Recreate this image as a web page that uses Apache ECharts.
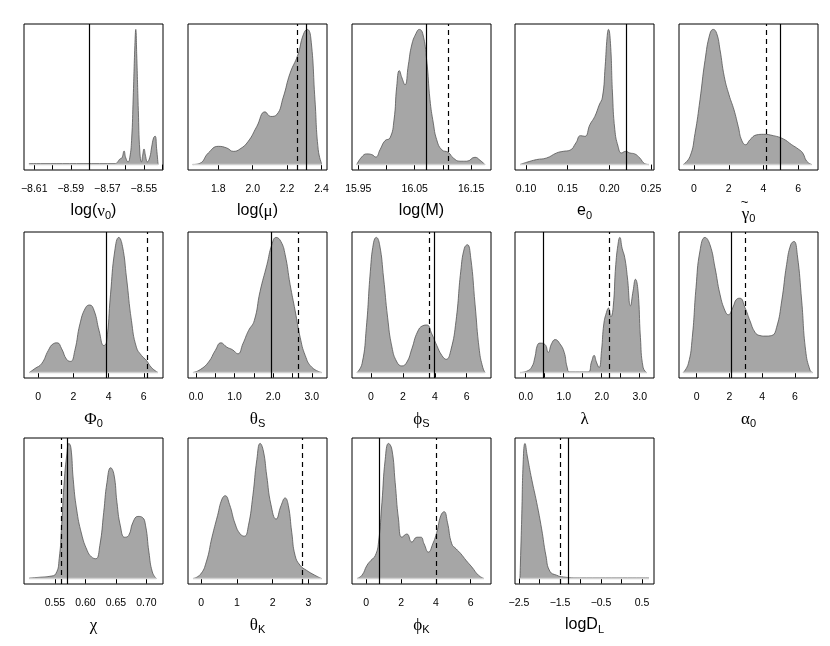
<!DOCTYPE html>
<html>
<head>
<meta charset="utf-8">
<script src="https://cdn.jsdelivr.net/npm/echarts@6/dist/echarts.min.js"></script>
<style>html,body{margin:0;padding:0;background:#fff}#c{width:830px;height:646px}</style>
</head>
<body>
<div id="c"></div>
<script>
// ---- density curves: [value, relative density] ----
const densNu0 = [[-8.6129,0.008],[-8.5654,0.008],[-8.5643,0.02],[-8.5632,0.04],[-8.5620,0.05],[-8.5608,0.10],[-8.5599,0.05],[-8.5586,0.02],[-8.5577,0.05],[-8.5567,0.18],[-8.5558,0.5],[-8.5549,0.88],[-8.5544,1.0],[-8.5539,0.82],[-8.5530,0.4],[-8.5522,0.1],[-8.5513,0.02],[-8.5506,0.07],[-8.5499,0.115],[-8.5490,0.06],[-8.5481,0.02],[-8.5468,0.05],[-8.5457,0.13],[-8.5446,0.20],[-8.5438,0.21],[-8.5430,0.12],[-8.5422,0.0]];
const densMu = [[1.651,0],[1.694,0.01],[1.742,0.086],[1.80,0.135],[1.849,0.123],[1.887,0.098],[1.926,0.115],[1.974,0.172],[2.023,0.28],[2.072,0.39],[2.105,0.356],[2.140,0.37],[2.178,0.50],[2.217,0.675],[2.262,0.81],[2.294,0.96],[2.317,1.0],[2.337,0.946],[2.362,0.48],[2.381,0.11],[2.401,0.005]];
const densLogM = [[15.9472,0],[15.956,0.056],[15.9649,0.079],[15.9738,0.074],[15.9809,0.056],[15.9885,0.11],[15.9973,0.177],[16.0062,0.197],[16.0133,0.33],[16.0181,0.577],[16.0227,0.695],[16.0275,0.64],[16.0328,0.59],[16.0387,0.737],[16.0447,0.885],[16.0523,0.97],[16.0582,1.0],[16.0642,0.97],[16.0713,0.77],[16.0771,0.48],[16.083,0.307],[16.089,0.184],[16.0979,0.11],[16.1096,0.09],[16.1184,0.049],[16.1303,0.025],[16.1422,0.025],[16.1569,0.054],[16.1658,0.032],[16.1746,0]];
const densE0 = [[0.0928,0],[0.1008,0.017],[0.1128,0.037],[0.1248,0.049],[0.1367,0.086],[0.1446,0.098],[0.1526,0.106],[0.1598,0.16],[0.1654,0.214],[0.1706,0.209],[0.1766,0.295],[0.1825,0.356],[0.1877,0.44],[0.1917,0.50],[0.1949,0.725],[0.1973,0.946],[0.1989,1.0],[0.2013,0.897],[0.2037,0.53],[0.2065,0.26],[0.2104,0.135],[0.2145,0.086],[0.2196,0.098],[0.2244,0.086],[0.2304,0.079],[0.2364,0.049],[0.2423,0.007],[0.2475,0]];
const densGamma0 = [[-0.616,0],[-0.23,0.06],[0.058,0.23],[0.345,0.48],[0.633,0.77],[0.921,0.97],[1.11,1.0],[1.306,0.97],[1.496,0.85],[1.743,0.65],[2.014,0.516],[2.301,0.405],[2.549,0.28],[2.744,0.18],[2.975,0.147],[3.222,0.184],[3.608,0.22],[3.987,0.224],[4.563,0.214],[5.138,0.19],[5.622,0.147],[6.001,0.115],[6.254,0.086],[6.485,0.025],[6.772,0]];
const densPhi0 = [[-0.51,0],[-0.19,0.03],[0.19,0.066],[0.57,0.164],[0.85,0.213],[1.078,0.22],[1.33,0.176],[1.61,0.098],[1.84,0.083],[2.08,0.164],[2.37,0.36],[2.69,0.48],[2.93,0.50],[3.18,0.457],[3.46,0.31],[3.73,0.20],[3.88,0.225],[4.11,0.58],[4.35,0.90],[4.58,1.0],[4.79,0.934],[5.02,0.70],[5.30,0.384],[5.58,0.188],[5.87,0.127],[6.15,0.09],[6.44,0.037],[6.81,0]];
const densThetaS = [[-0.078,0],[0.11,0.022],[0.326,0.078],[0.50,0.164],[0.647,0.22],[0.80,0.188],[0.946,0.169],[1.086,0.139],[1.215,0.213],[1.36,0.31],[1.51,0.384],[1.66,0.60],[1.84,0.80],[1.965,0.946],[2.077,1.0],[2.2,0.97],[2.31,0.873],[2.44,0.65],[2.57,0.457],[2.70,0.26],[2.83,0.127],[3.0,0.04],[3.26,0]];
const densPhiS = [[-0.875,0],[-0.56,0.066],[-0.29,0.335],[-0.04,0.75],[0.16,0.96],[0.33,1.0],[0.54,0.946],[0.79,0.70],[1.04,0.41],[1.31,0.19],[1.625,0.078],[1.94,0.049],[2.25,0.078],[2.56,0.176],[2.91,0.30],[3.25,0.347],[3.5,0.352],[3.81,0.286],[4.125,0.20],[4.44,0.127],[4.71,0.098],[5.0,0.164],[5.33,0.384],[5.625,0.75],[5.85,0.92],[6.04,0.946],[6.25,0.85],[6.52,0.506],[6.79,0.164],[7.0,0.04],[7.14,0]];
const densLambda = [[-0.15,0],[0.026,0.01],[0.157,0.04],[0.244,0.115],[0.305,0.20],[0.375,0.218],[0.507,0.208],[0.594,0.15],[0.68,0.213],[0.776,0.244],[0.90,0.213],[1.013,0.15],[1.09,0.04],[1.16,0.005],[1.64,0.005],[1.73,0.078],[1.80,0.127],[1.86,0.078],[1.93,0.037],[1.995,0.164],[2.055,0.36],[2.125,0.445],[2.178,0.477],[2.24,0.413],[2.30,0.48],[2.37,0.80],[2.44,0.97],[2.475,1.0],[2.536,0.92],[2.606,0.85],[2.677,0.70],[2.756,0.494],[2.825,0.604],[2.887,0.69],[2.955,0.604],[3.018,0.26],[3.087,0.04],[3.175,0]];
const densAlpha0 = [[-0.82,0],[-0.51,0.066],[-0.27,0.26],[-0.04,0.63],[0.2,0.90],[0.507,1.0],[0.81,0.946],[1.12,0.775],[1.42,0.58],[1.73,0.457],[1.93,0.428],[2.2,0.48],[2.44,0.543],[2.64,0.55],[2.95,0.48],[3.25,0.384],[3.56,0.298],[3.86,0.274],[4.17,0.27],[4.58,0.274],[4.88,0.335],[5.19,0.53],[5.49,0.80],[5.74,0.946],[5.94,0.97],[6.14,0.873],[6.41,0.53],[6.65,0.164],[6.92,0.017],[7.08,0]];
const densChi = [[0.508,0.004],[0.5255,0.01],[0.5418,0.017],[0.5516,0.037],[0.557,0.147],[0.561,0.39],[0.5648,0.686],[0.5692,0.907],[0.573,1.0],[0.5762,0.968],[0.58,0.735],[0.5855,0.515],[0.5937,0.33],[0.6029,0.208],[0.61,0.16],[0.617,0.147],[0.6236,0.245],[0.63,0.49],[0.6353,0.71],[0.6414,0.82],[0.6468,0.77],[0.6517,0.564],[0.6573,0.39],[0.6643,0.306],[0.6709,0.319],[0.678,0.417],[0.6861,0.46],[0.6933,0.453],[0.6987,0.39],[0.7041,0.196],[0.7097,0.049],[0.7162,0]];
const densThetaK = [[-0.232,0],[-0.028,0.03],[0.14,0.123],[0.30,0.306],[0.456,0.466],[0.58,0.588],[0.67,0.613],[0.79,0.55],[0.95,0.404],[1.09,0.33],[1.21,0.314],[1.32,0.39],[1.445,0.613],[1.557,0.88],[1.65,1.0],[1.74,0.944],[1.835,0.76],[1.95,0.55],[2.096,0.44],[2.236,0.54],[2.35,0.596],[2.44,0.54],[2.535,0.343],[2.63,0.17],[2.77,0.098],[2.95,0.061],[3.18,0.025],[3.37,0]];
const densPhiK = [[-0.533,0],[-0.246,0.025],[0.04,0.098],[0.27,0.135],[0.516,0.17],[0.705,0.27],[0.9,0.564],[1.086,0.88],[1.28,1.0],[1.47,0.956],[1.66,0.71],[1.85,0.44],[2.045,0.306],[2.33,0.33],[2.62,0.27],[2.905,0.306],[3.135,0.306],[3.32,0.257],[3.57,0.196],[3.82,0.257],[4.05,0.343],[4.28,0.466],[4.47,0.495],[4.66,0.417],[4.91,0.257],[5.16,0.22],[5.43,0.184],[5.73,0.135],[6.06,0.086],[6.44,0.025],[6.76,0]];
const densLogDL = [[-2.476,0],[-2.434,0.44],[-2.395,0.88],[-2.354,1.0],[-2.298,0.907],[-2.19,0.735],[-2.069,0.564],[-1.948,0.368],[-1.843,0.17],[-1.746,0.054],[-1.583,0.025],[-1.42,0.012],[-1.016,0.005],[0.67,0.005]];

// ---- reference lines (solid / dashed) ----
const solidLines = [-8.5791, 2.314, 16.0713, 0.2232, 4.97, 3.88, 1.94, 3.956, 0.462, 2.137, 0.5701, null, 0.745, -1.30];
const dashedLines = [null, 2.2616, 16.1131, null, 4.14, 6.19, 2.653, 3.625, 2.213, 2.967, 0.5565, 2.832, 4.01, -1.5];

// ---- axis ticks and labels ----
const ticksNu0 = [-8.61,-8.60,-8.59,-8.58,-8.57,-8.56,-8.55,-8.54];
const labelsNu0 = [-8.61,-8.59,-8.57,-8.55];
const ticksMu = [1.8,2.0,2.2,2.4];
const ticksLogM = [15.95,16.00,16.05,16.10,16.15];
const labelsLogM = [15.95,16.05,16.15];
const ticksE0 = [0.10,0.15,0.20,0.25];
const ticksEven6 = [0,2,4,6];
const ticksHalf3 = [0,0.5,1,1.5,2,2.5,3];
const labelsInt3 = [0,1,2,3];
const ticksChi = [0.55,0.60,0.65,0.70];
const ticksDL = [-2.5,-2,-1.5,-1,-0.5,0,0.5];
const labelsDL = [-2.5,-1.5,-0.5,0.5];

const panels = [
  {d: densNu0, name:'{t|log(}{g|ν}{s|0}{t|)}', min:-8.6156, max:-8.5395, ticks:ticksNu0, labels:labelsNu0, dec:2},
  {d: densMu, name:'{t|log(}{g|μ}{t|)}', min:1.6238, max:2.432, ticks:ticksMu, labels:ticksMu, dec:1},
  {d: densLogM, name:'{t|log(M)}', min:15.9388, max:16.1853, ticks:ticksLogM, labels:labelsLogM, dec:2},
  {d: densE0, name:'{t|e}{s|0}', min:0.0868, max:0.2535, ticks:ticksE0, labels:ticksE0, dec:2},
  {d: densGamma0, name:'{tl|~}\n{g|γ}{s|0}', gapAdj:-9, min:-0.863, max:7.135, ticks:ticksEven6, labels:ticksEven6, dec:0},
  {d: densPhi0, name:'{g|Φ}{s|0}', min:-0.812, max:7.094, ticks:ticksEven6, labels:ticksEven6, dec:0},
  {d: densThetaS, name:'{g|θ}{s|S}', min:-0.207, max:3.395, ticks:ticksHalf3, labels:labelsInt3, dec:1},
  {d: densPhiS, name:'{g|ϕ}{s|S}', min:-1.19, max:7.52, ticks:ticksEven6, labels:ticksEven6, dec:0},
  {d: densLambda, name:'{g|λ}', min:-0.281, max:3.375, ticks:ticksHalf3, labels:labelsInt3, dec:1},
  {d: densAlpha0, name:'{g|α}{s|0}', min:-1.08, max:7.405, ticks:ticksEven6, labels:ticksEven6, dec:0},
  {d: densChi, name:'{g|χ}', min:0.4993, max:0.7272, ticks:ticksChi, labels:ticksChi, dec:2},
  {d: densThetaK, name:'{g|θ}{s|K}', min:-0.372, max:3.523, ticks:labelsInt3, labels:labelsInt3, dec:0},
  {d: densPhiK, name:'{g|ϕ}{s|K}', min:-0.82, max:7.163, ticks:ticksEven6, labels:ticksEven6, dec:0},
  {d: densLogDL, name:'{t|logD}{s|L}', min:-2.597, max:0.792, ticks:ticksDL, labels:labelsDL, dec:1}
];

const colLeft = [24, 188, 352, 515, 679];
const rowTop = [24, 232, 438];
const W = 139, H = 146;

const grids = [], xAxes = [], yAxes = [], series = [];
const rich = {
  t: {fontSize: 16, fontFamily: 'Liberation Sans', color: '#000', lineHeight: 18, verticalAlign: 'top'},
  g: {fontSize: 17, fontFamily: 'Liberation Serif', color: '#000', lineHeight: 18, verticalAlign: 'top'},
  s: {fontSize: 11, fontFamily: 'Liberation Sans', color: '#000', lineHeight: 10, padding: [9,0,0,0], verticalAlign: 'bottom'},
  tl: {fontSize: 13, fontFamily: 'Liberation Sans', color: '#000', lineHeight: 8, padding: [0, 8, 0, 0]}
};

panels.forEach((p, i) => {
  const r = Math.floor(i / 5), c = i % 5;
  grids.push({left: colLeft[c], top: rowTop[r], width: W, height: H, show: true, borderColor: '#000', borderWidth: 1, backgroundColor: 'transparent'});
  const dec = p.dec;
  xAxes.push({
    type: 'value', gridIndex: i, min: p.min, max: p.max,
    splitLine: {show: false},
    axisLine: {show: false},
    axisTick: {show: true, inside: false, length: 5, lineStyle: {color: '#000', width: 1}, customValues: p.ticks},
    axisLabel: {show: true, margin: 14, fontSize: 10.5, color: '#000', fontFamily: 'Liberation Sans',
      customValues: p.labels,
      formatter: v => v.toFixed(dec).replace('-', '\u2212')},
    name: p.name, nameLocation: 'middle', nameGap: 33 + (p.gapAdj || 0),
    nameTextStyle: {rich: rich}
  });
  yAxes.push({type: 'value', gridIndex: i, min: -0.04, max: 1.04, show: false});
  const ml = [];
  if (solidLines[i] !== null) ml.push({xAxis: solidLines[i], lineStyle: {color: '#000', width: 1.2, type: 'solid'}});
  if (dashedLines[i] !== null) ml.push({xAxis: dashedLines[i], lineStyle: {color: '#000', width: 1.2, type: [5, 4]}});
  series.push({
    type: 'line', xAxisIndex: i, yAxisIndex: i, data: p.d, smooth: 0.5,
    symbol: 'none', silent: true,
    lineStyle: {color: '#555', width: 0.8},
    areaStyle: {color: '#a6a6a6', opacity: 1, origin: 0},
    markLine: {silent: true, symbol: ['none', 'none'], label: {show: false}, data: ml, animation: false},
    z: 2
  });
  series.push({
    type: 'line', xAxisIndex: i, yAxisIndex: i,
    data: [[p.d[0][0], 0], [p.d[p.d.length - 1][0], 0]],
    symbol: 'none', silent: true, lineStyle: {color: '#d0d0d0', width: 1.5}, z: 3
  });
});

const chart = echarts.init(document.getElementById('c'), null, {renderer: 'canvas'});
chart.setOption({animation: false, grid: grids, xAxis: xAxes, yAxis: yAxes, series: series});
</script>
</body>
</html>
